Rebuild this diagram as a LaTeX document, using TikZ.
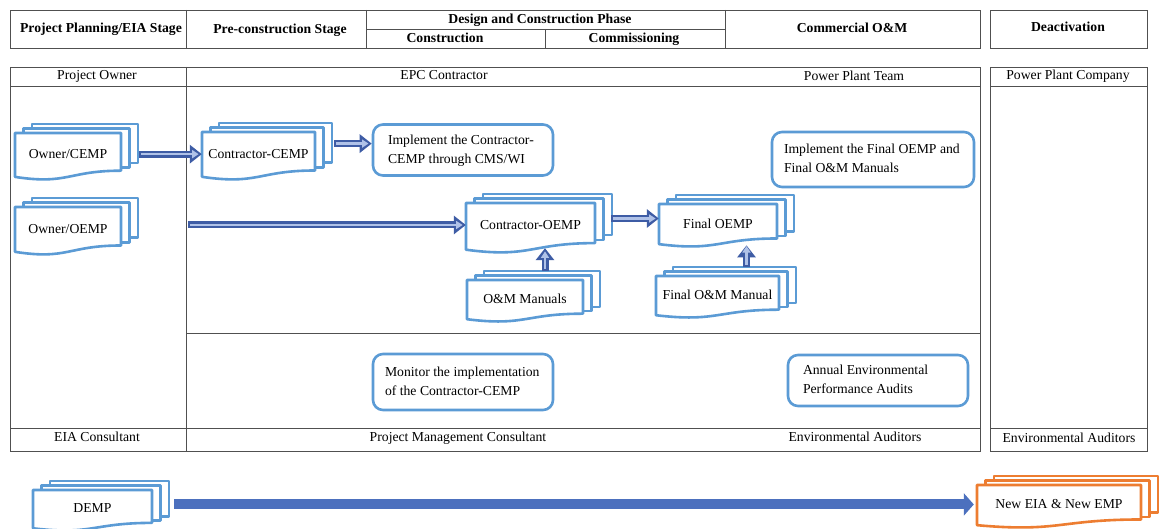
\documentclass[tikz,border=0pt]{standalone}
\usepackage{fontspec}
\setmainfont{Liberation Serif}
\usetikzlibrary{arrows.meta,calc}

\definecolor{docblue}{RGB}{91,155,213}
\definecolor{docorange}{RGB}{237,125,49}
\definecolor{arrowdark}{RGB}{62,92,165}
\definecolor{arrowlight}{RGB}{176,194,232}
\definecolor{barblue}{RGB}{76,112,190}
\definecolor{rulegray}{RGB}{80,80,80}

\tikzset{
  grid/.style={draw=rulegray, line width=0.9pt},
  head/.style={font=\fontsize{13.7}{16}\selectfont\bfseries, inner sep=0pt, text height=9.5pt, text depth=2.5pt},
  lbl/.style={font=\fontsize{13.7}{16}\selectfont, inner sep=0pt, text height=9.5pt, text depth=2.5pt},
  docline/.style={draw=#1, line width=2.6pt, fill=white, line join=round},
  doctext/.style={font=\fontsize{13.7}{16}\selectfont, inner sep=0pt, draw=none},
  taskbox/.style={draw=docblue, line width=2.6pt, rounded corners=10pt, fill=white,
    font=\fontsize{13.7}{19}\selectfont, inner ysep=0pt},
  % hollow block arrow: dark body with a light core
  dbl/.style={draw=arrowdark, line width=7pt, -{Triangle[length=12pt, width=18pt]},
    postaction={draw=arrowlight, line width=2.6pt, -{Triangle[length=6.5pt, width=8pt]},
      shorten >=3.2pt, shorten <=2pt}},
  bar/.style={draw=barblue, line width=10pt, -{Triangle[length=10pt, width=22pt]}},
}

% left-aligned lines in a block of fixed width
\newcommand\boxlines[2]{\makebox[#1][l]{\begin{tabular}{@{}l@{}}#2\end{tabular}}}

% stacked documents: name, left, top, width, height, text, colour
\newcommand\mdoc[7]{%
  \draw[docline=#7] (#2+17,#3-9) rectangle (#2+#4+17,#3+0.64*#5);
  \draw[docline=#7] (#2+8.5,#3-4.5) rectangle (#2+#4+8.5,#3+0.74*#5);
  \draw[docline=#7] (#2,#3) -- (#2+#4,#3) -- (#2+#4,#3+0.802*#5)
     .. controls (#2+0.5*#4,#3+0.802*#5) and (#2+0.5*#4,#3+1.107*#5) .. (#2,#3+0.934*#5) -- cycle;
  \node[doctext, minimum width=#4, minimum height=0.9*#5] (#1) at (#2+0.5*#4,#3+0.45*#5) {#6};
}

\begin{document}
\begin{tikzpicture}[x=1pt,y=-1pt]
\useasboundingbox (0,0) rectangle (1160,529);
\fill[white] (0,0) rectangle (1160,529);

% stage header
\draw[grid] (10,10) rectangle (980,48);
\draw[grid] (186,10) -- (186,48) (366,10) -- (366,48) (725,10) -- (725,48)
            (366,29) -- (725,29) (545,29) -- (545,48);
\draw[grid] (990,10) rectangle (1147,48);
\node[head] (hplan) at (101,29) {Project Planning/EIA Stage};
\node[head] (hpre) at (280,30) {Pre-construction Stage};
\node[head] (hdc) at (540,20) {Design and Construction Phase};
\node[head] (hcon) at (445,39) {Construction};
\node[head] (hcom) at (634,39) {Commissioning};
\node[head] (hom) at (852,29) {Commercial O\&M};
\node[head] (hdeac) at (1068,28) {Deactivation};

% responsibility table
\draw[grid] (10,67) rectangle (980,451);
\draw[grid] (10,86) -- (980,86) (10,428) -- (980,428) (186,67) -- (186,451) (186,333) -- (980,333);
\draw[grid] (990,67) rectangle (1147,451);
\draw[grid] (990,86) -- (1147,86) (990,428) -- (1147,428);
\node[lbl] (rowner) at (97,76) {Project Owner};
\node[lbl] (repc) at (444,76) {EPC Contractor};
\node[lbl] (rteam) at (854,77) {Power Plant Team};
\node[lbl] (rcomp) at (1068,76) {Power Plant Company};
\node[lbl] (reia) at (97,438) {EIA Consultant};
\node[lbl] (rpmc) at (458,438) {Project Management Consultant};
\node[lbl] (raud) at (855,438) {Environmental Auditors};
\node[lbl] (raud2) at (1069,439) {Environmental Auditors};

% plans and manuals
\mdoc{ocemp}{15}{133}{106}{47}{Owner/CEMP}{docblue}
\mdoc{ooemp}{15}{207}{106}{48}{Owner/OEMP}{docblue}
\mdoc{ccemp}{202}{132}{113}{48}{Contractor-CEMP}{docblue}
\mdoc{coemp}{466}{203}{129}{50}{Contractor-OEMP}{docblue}
\mdoc{omm}{467}{280}{116}{42}{O\&M Manuals}{docblue}
\mdoc{foemp}{659}{204}{118}{43}{Final OEMP}{docblue}
\mdoc{fomm}{656}{276}{123}{42}{Final O\&M Manual}{docblue}
\mdoc{demp}{33}{490}{119}{41}{DEMP}{docblue}
\mdoc{nemp}{977}{485}{164}{43}{New EIA \& New EMP}{docorange}

% activities
\node[taskbox, inner xsep=15pt, minimum height=51] (impl) at (463,150)
  {\boxlines{150pt}{Implement the Contractor-\\CEMP through CMS/WI}};
\node[taskbox, inner xsep=12pt, minimum height=55] (implf) at (873,159.5)
  {\boxlines{178pt}{Implement the Final OEMP and\\Final O\&M Manuals}};
\node[taskbox, inner xsep=12pt, minimum height=56] (mon) at (463,382)
  {\boxlines{156pt}{Monitor the implementation\\of the Contractor-CEMP}};
\node[taskbox, inner xsep=15pt, minimum height=51] (audit) at (878,380.5)
  {\boxlines{150pt}{Annual Environmental\\Performance Audits}};

% flows
\path ($(ocemp.east)+(18,0)$) coordinate (a1);
\draw[dbl] (a1) -- (a1 -| ccemp.west);
\path ($(ccemp.east)+(19,-10)$) coordinate (a2);
\draw[dbl] (a2) -- (a2 -| impl.west);
\coordinate (feed) at (188,225);
\draw[dbl] (feed) -- (feed -| coemp.west);
\path ($(coemp.east)+(16,-7)$) coordinate (a4);
\draw[dbl] (a4) -- (a4 -| foemp.west);
\path ($(omm.north)+(20,-9)$) coordinate (a5);
\draw[dbl] (a5) -- (a5 |- coemp.south);
\path ($(fomm.north)+(29,-9)$) coordinate (a6);
\draw[dbl, shorten >=2.5pt] (a6) -- (a6 |- foemp.south);
\path ($(demp.east)+(22,-4)$) coordinate (a7);
\draw[bar, shorten >=3pt] (a7) -- (a7 -| nemp.west);
\end{tikzpicture}
\end{document}
